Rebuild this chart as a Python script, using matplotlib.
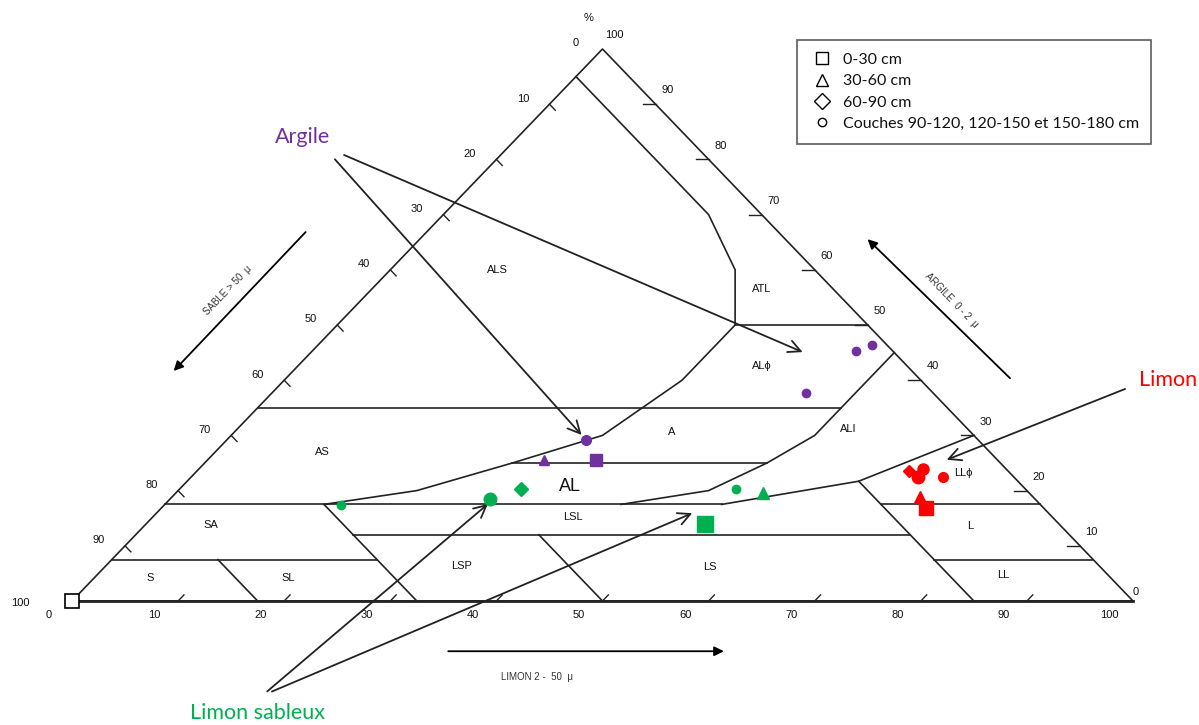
import numpy as np
import matplotlib
matplotlib.use("Agg")
import matplotlib.pyplot as plt
from matplotlib.lines import Line2D

# --- measured points (silt %, clay %) ---
argile_silt = [51.2, 52.2, 50.3, 33.8, 31.7, 36.6]
argile_clay = [45.3, 46.4, 37.7, 29.2, 25.5, 25.5]
argile_layer = ["o", "o", "o", "o", "^", "s"]

lsab_silt = [16.7, 30.1, 52.4, 32.2, 55.3, 52.7]
lsab_clay = [17.4, 18.5, 20.3, 20.3, 19.6, 13.9]
lsab_layer = ["o", "o", "o", "D", "^", "s"]

limon_silt = [67.1, 68.3, 68.5, 70.8, 70.5, 72.0]
limon_clay = [23.6, 23.9, 22.5, 22.5, 18.8, 16.9]
limon_layer = ["D", "o", "o", "o", "^", "s"]

legend_labels = ["0-30 cm", "30-60 cm", "60-90 cm",
                 "Couches 90-120, 120-150 et 150-180 cm"]

# --- class boundaries (silt %, clay %) ---
bnd_a_silt = [0, 25, 32.5, 37.5, 37.5, 35, 29, 22.5, 15]
bnd_a_clay = [95, 70, 60, 50, 40, 30, 25, 20, 17.5]
bnd_b_silt = [55, 55, 55, 53, 50, 43]
bnd_b_clay = [45, 35, 30, 25, 20, 17.5]
bnd_c_silt = [52.5, 63.3, 70]
bnd_c_clay = [17.5, 21.7, 30]
# horizontal lines: clay, silt from, silt to
clay_lines = [(50, 37.5, 50), (35, 0, 55), (25, 29, 53), (17.5, 0, 52.5),
              (17.5, 67.5, 82.5), (12, 20.5, 73), (7.5, 0, 25), (7.5, 77.5, 92.5)]
# constant sand lines: sand, top clay
sand_lines = [(82.5, 7.5), (67.5, 17.5), (50, 12), (15, 21.7)]

classes = ["ALS", "ATL", "AL\u03d5", "A", "AL", "ALI", "LL\u03d5", "AS", "SA",
           "LSL", "L", "S", "SL", "LSP", "LS", "LL"]
class_pos = [(40.1, 60), (65, 56.5), (65, 42.6), (56.5, 30.6), (46.9, 20.7),
             (73.2, 31.2), (84, 23.2), (23.6, 27), (13.1, 13.8), (47.2, 15.2),
             (84.7, 13.6), (7.4, 4.2), (20.4, 4.2), (36.7, 6.3), (60.1, 6.2),
             (87.8, 4.7)]

ticks = list(range(0, 101, 10))

PURPLE = "#7030A0"
GREEN = "#00B050"
RED = "#FF0000"


def tern(silt, clay):
    silt = np.asarray(silt, dtype=float)
    clay = np.asarray(clay, dtype=float)
    return silt + clay / 2, clay


fig = plt.figure(figsize=(11.99, 7.25), dpi=100)
ax = fig.add_axes([72 / 1199, 124 / 725, 1061 / 1199, 552 / 725])
ax.set_xlim(0, 100)
ax.set_ylim(0, 100)
ax.axis("off")

lc = "#222222"
# triangle
ax.plot(*tern([0, 100, 0, 0], [0, 0, 100, 0]), color=lc, lw=1.2, clip_on=False)
ax.plot(*tern([0, 100], [0, 0]), color=lc, lw=2, clip_on=False)

for s, c in [(bnd_a_silt, bnd_a_clay), (bnd_b_silt, bnd_b_clay), (bnd_c_silt, bnd_c_clay)]:
    ax.plot(*tern(s, c), color=lc, lw=1.2)
for c, s0, s1 in clay_lines:
    ax.plot(*tern([s0, s1], [c, c]), color=lc, lw=1.2)
for sd, ct in sand_lines:
    ax.plot(*tern([100 - sd, 100 - sd - ct], [0, ct]), color=lc, lw=1.2)

# ticks and tick labels
tf = dict(family="Liberation Sans", fontsize=8, color="#111111")
for v in ticks:
    if 0 < v < 100:
        ax.plot(*tern([v, v], [0, 1.1]), color=lc, lw=1)
        ax.plot(*tern([0, 1.1], [100 - v, 98.9 - v]), color=lc, lw=1)
        ax.plot(*tern([100 - v, 98.8 - v], [v, v]), color=lc, lw=1)
    x, y = tern(v, 0)
    ax.text(x - 2.2, y - 2.6, str(v), ha="center", va="center", **tf)
    x, y = tern(0, 100 - v)
    if v == 100:
        ax.text(x - 4.9, y - 0.3, str(v), ha="center", va="center", **tf)
    else:
        ax.text(x - 2.5, y + 1.0, str(v), ha="center", va="center", **tf)
    x, y = tern(100 - v, v)
    if v == 0:
        ax.text(x + 0.3, y + 1.6, str(v), ha="center", va="center", **tf)
    else:
        ax.text(x + 1.1, y + 2.5, str(v), ha="center", va="center", **tf)

ax.text(48.7, 105.6, "%", ha="center", va="center", **tf)

for name, (x, y) in zip(classes, class_pos):
    ax.text(x, y, name, ha="center", va="center", family="Liberation Sans",
            fontsize=13 if name == "AL" else 8, color="#111111")

# axis arrows
ap = dict(arrowstyle="-|>", color="black", lw=1.3, mutation_scale=14)
ax.annotate("", xy=(9.4, 41.3), xytext=(22.2, 67.2), arrowprops=ap, annotation_clip=False)
ax.text(14.7, 56.3, "SABLE > 50  \u03bc", rotation=46, ha="center", va="center",
        family="Liberation Sans", fontsize=7, color="#333333")
ax.annotate("", xy=(74.8, 65.9), xytext=(88.6, 40), arrowprops=ap, annotation_clip=False)
ax.text(82.9, 54.5, "ARGILE  0 - 2  \u03bc", rotation=-46, ha="center", va="center",
        family="Liberation Sans", fontsize=7, color="#333333")
ax.annotate("", xy=(61.7, -9.1), xytext=(35.2, -9.1), arrowprops=ap, annotation_clip=False)
ax.text(43.8, -13.8, "LIMON 2 -  50  \u03bc", ha="center", va="center",
        family="Liberation Sans", fontsize=7, color="#333333")


# points
def draw(silt, clay, layers, color, sizes):
    x, y = tern(silt, clay)
    for xi, yi, m, ms in zip(x, y, layers, sizes):
        ax.plot(xi, yi, marker=m, color=color, ms=ms, ls="none", zorder=5, clip_on=False)


draw(argile_silt, argile_clay, argile_layer, PURPLE, [6, 6, 6, 7, 7, 8])
draw(lsab_silt, lsab_clay, lsab_layer, GREEN, [6, 9, 6, 7, 8, 11])
draw(limon_silt, limon_clay, limon_layer, RED, [6, 8, 9, 7, 8, 10])
ax.plot(0, 0, marker="s", mfc="white", mec="black", ms=10, mew=1.2, zorder=6, clip_on=False)

# callouts
cp = dict(arrowstyle="->", color="#222222", lw=1.3, mutation_scale=22)
ax.text(21.7, 84.1, "Argile", color=PURPLE, family="Lato", fontsize=15.5,
        ha="center", va="center")
x, y = tern(argile_silt[3], argile_clay[3])
ax.annotate("", xy=(x - 0.2, y + 0.5), xytext=(24.6, 80.4), arrowprops=cp, annotation_clip=False)
ax.annotate("", xy=(69.1, 44.9), xytext=(25.4, 81.0), arrowprops=cp, annotation_clip=False)

ax.text(103.3, 40, "Limon", color=RED, family="Lato", fontsize=15.5, ha="center", va="center")
ax.annotate("", xy=(82.2, 25.4), xytext=(99.5, 38.6), arrowprops=cp, annotation_clip=False)

ax.text(17.5, -20.3, "Limon sableux", color=GREEN, family="Lato", fontsize=15.5,
        ha="center", va="center")
ax.annotate("", xy=(39.4, 17.9), xytext=(18.2, -16.7), arrowprops=cp, annotation_clip=False)
ax.annotate("", xy=(58.7, 16.1), xytext=(18.6, -16.6), arrowprops=cp, annotation_clip=False)

# legend
handles = [Line2D([], [], marker=m, ls="none", mfc="white", mec="black", ms=ms, mew=1.0)
           for m, ms in zip(["s", "^", "D", "o"], [8, 9, 8, 6])]
leg = fig.legend(handles, legend_labels, loc="upper left",
                 bbox_to_anchor=(797 / 1199, 1 - 40 / 725), frameon=True,
                 fancybox=False, prop=dict(family="Lato", size=11.5),
                 handlelength=1.5, handletextpad=0.55, labelspacing=0.45,
                 borderpad=0.8, borderaxespad=0)
leg.get_frame().set_edgecolor("#333333")
leg.get_frame().set_linewidth(1.2)
for t in leg.get_texts():
    t.set_color("#111111")

fig.savefig("out.png", dpi=100)
